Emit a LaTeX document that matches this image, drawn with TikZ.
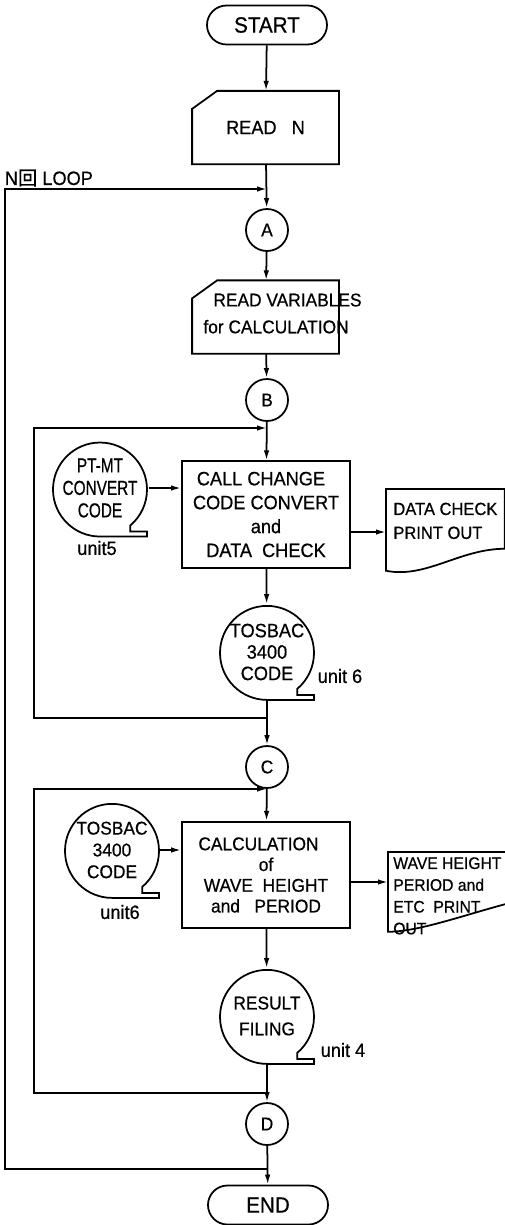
\documentclass[tikz,border=0pt]{standalone}
\usepackage{fontspec}
\setmainfont{Liberation Sans}[FakeStretch=0.94,FakeBold=0.6]
\newfontfamily\narrowfont{Liberation Sans}[FakeStretch=0.76,FakeBold=0.6]
\newfontfamily\cjkfont{Noto Sans CJK JP}[FakeBold=0.6]
\usetikzlibrary{arrows.meta,calc}

% outline of a punched card, drawn round a named node
\newcommand{\cardline}[1]{\draw ([yshift=-3.6mm]#1.north west) -- ([xshift=5mm]#1.north west) -- (#1.north east) -- (#1.south east) -- (#1.south west) -- cycle;}
% outline of a magnetic tape reel
\newcommand{\tapeline}[1]{\draw (#1.south) arc[start angle=270,end angle=-50,radius=9.4mm] |- ($(#1.south)+(9.4mm,1mm)$) -- ++(0,-1mm) -- cycle;}

\begin{document}
\begin{tikzpicture}[x=0.2mm,y=0.2mm,line width=1pt,
      >={Latex[length=2mm,width=1.1mm]},
      term/.style={draw,rounded corners=3.9mm,minimum width=24mm,minimum height=7.8mm,inner sep=0pt,font=\fontsize{12.5}{14}\selectfont},
      card/.style={minimum width=29mm,minimum height=14.3mm,inner sep=0pt},
      conn/.style={draw,circle,minimum size=8.4mm,inner sep=0pt,font=\fontsize{10.5}{12}\selectfont},
      procbox/.style={draw,minimum width=33.6mm,minimum height=21.3mm,inner sep=0pt,align=center},
      tape/.style={circle,minimum size=18.8mm,inner sep=0pt,align=center,font=\fontsize{11}{12.2}\selectfont},
      prt/.style={anchor=north west,minimum width=23.4mm,inner xsep=0.8mm,inner ysep=0pt,align=left},
      unit/.style={inner sep=0pt,font=\fontsize{11}{12}\selectfont}]
    \useasboundingbox (0,0) rectangle (505,-1225);

    % main column
    \node[term] (start) at (267,-25) {START};
    \node[card,font=\fontsize{11}{13}\selectfont] (readn) at (265.5,-127.5) {READ\ \ \ N};
    \cardline{readn}
    \node[conn] (A) at (267,-230) {A};
    \node[card] (rv) at (265.5,-317) {};
    \cardline{rv}
    \node[align=left,inner sep=0pt,font=\fontsize{10.5}{15.3}\selectfont] (rvtxt) at (282.5,-313.5) {\hspace*{2mm}READ VARIABLES\\for CALCULATION};
    \node[conn] (B) at (267,-400) {B};
    \node[procbox,font=\fontsize{11}{13.6}\selectfont] (cc) at (266,-514.5) {CALL CHANGE\hspace*{2mm}\\CODE CONVERT\\and\\DATA\ \ CHECK};
    \node[tape] (tb1) at (267,-652) {TOSBAC\\3400\\CODE};
    \tapeline{tb1}
    \node[conn] (C) at (267,-767) {C};
    \node[procbox,font=\fontsize{10.5}{11.8}\selectfont] (cw) at (266,-875) {CALCULATION\hspace*{3mm}\\of\\WAVE\ \ HEIGHT\\and\ \ \ PERIOD};
    \node[tape,font=\fontsize{10.5}{14.7}\selectfont] (rf) at (267,-1016) {RESULT\\FILING};
    \tapeline{rf}
    \node[conn] (D) at (267,-1124) {D};
    \node[term] (end) at (268,-1205) {END};

    % side tapes and print outs
    \node[tape,font=\narrowfont\fontsize{11.5}{12.8}\selectfont] (pt) at (100,-488) {PT-MT\\CONVERT\\CODE};
    \tapeline{pt}
    \node[unit] (u5) at (97,-548) {unit5};
    \node[unit] (u6a) at (340,-676) {unit 6};
    \node[tape,font=\fontsize{10.5}{12.4}\selectfont] (tb2) at (112,-850) {TOSBAC\\3400\\CODE};
    \tapeline{tb2}
    \node[unit] (u6b) at (120,-912) {unit6};
    \node[unit] (u4) at (343,-1050) {unit 4};
    \node[prt,minimum height=12.4mm,font=\fontsize{10}{13.6}\selectfont] (dcp) at (386,-489) {DATA CHECK\\PRINT OUT};
    \draw (dcp.north west) -- (dcp.north east) -- ([yshift=0.8mm]dcp.south east) .. controls +(-9mm,0) and +(8mm,-1.6mm) .. ([yshift=-3.6mm]dcp.south west) -- cycle;
    \node[prt,minimum height=17.2mm,font=\fontsize{9.5}{12.4}\selectfont] (wh) at (388,-852) {WAVE HEIGHT\\PERIOD and\\ETC\ \ PRINT\\OUT};
    \draw (wh.north east) -- (wh.north west) -- ([yshift=1.6mm]wh.south west) .. controls +(6mm,0) and +(-9mm,-2.4mm) .. ([yshift=7.2mm]wh.south east);

    % flow
    \draw[->] (start) -- (readn);
    \draw[->] (readn) -- (A);
    \draw[->] (A) -- (rv);
    \draw[->] (rv) -- (B);
    \draw[->] (B) -- (cc);
    \draw[->] (cc) -- (tb1);
    \draw[->] (tb1) -- (C);
    \draw[->] (C) -- (cw);
    \draw[->] (cw) -- (rf);
    \draw[->] (rf) -- (D);
    \draw[->] (D) -- (end);
    \draw[->] (pt.east) -- (pt.east -| cc.west);
    \draw[->] ($(cc.east)+(0,-3.5mm)$) -- ($(cc.east -| dcp.west)+(0,-3.5mm)$);
    \draw[->] (tb2.east) -- (tb2.east -| cw.west);
    \draw[->] ($(cw.east)+(0,-1.4mm)$) -- ($(cw.east -| wh.west)+(0,-1.4mm)$);

    % loops
    \coordinate (ot) at (267,-189);
    \coordinate (ob) at (267,-1169);
    \coordinate (ol) at (5,-600);
    \coordinate (l1t) at (267,-428);
    \coordinate (l1b) at (267,-718);
    \coordinate (l2t) at (267,-789);
    \coordinate (l2b) at (267,-1093);
    \coordinate (il) at (34,-600);
    \draw[->] (ob) -- (ob -| ol) -- (ot -| ol) -- (ot);
    \draw[->] (l1b) -- (l1b -| il) -- (l1t -| il) -- (l1t);
    \draw[->] (l2b) -- (l2b -| il) -- (l2t -| il) -- (l2t);
    \node[anchor=west,inner sep=0pt,font=\fontsize{11}{12}\selectfont] (nloop) at (4,-178) {N{\cjkfont 回} LOOP};
  \end{tikzpicture}
\end{document}
